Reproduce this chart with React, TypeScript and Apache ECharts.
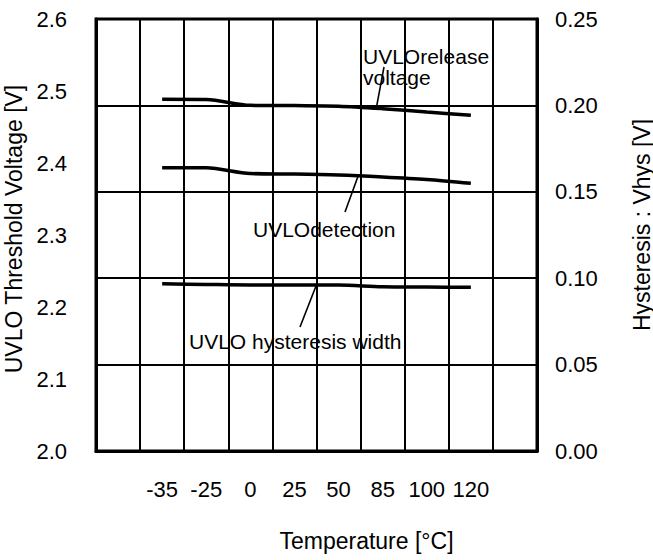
import React, { useEffect, useRef } from "react";
import * as echarts from "echarts";

const categories = ["", "-35", "-25", "0", "25", "50", "85", "100", "120", ""];
const releaseVoltage = [null, 2.4885, 2.4882, 2.4801, 2.4797, 2.4789, 2.4754, 2.4708, 2.4663, null];
const detectionVoltage = [null, 2.3935, 2.3933, 2.3854, 2.3847, 2.3833, 2.3806, 2.3771, 2.3718, null];
const hysteresisWidth = [null, 0.0968, 0.0964, 0.0961, 0.0961, 0.096, 0.0951, 0.0949, 0.0947, null];

const FONT = "Liberation Sans, Arial, sans-serif";

export default function App() {
  const ref = useRef<HTMLDivElement>(null);
  useEffect(() => {
    if (!ref.current) return;
    const chart = echarts.init(ref.current, null, { renderer: "svg" });
    const lineSeries = (name: string, data: any[], yAxisIndex: number) => ({
      name,
      type: "line",
      yAxisIndex,
      data,
      showSymbol: false,
      symbol: "none",
      smooth: 0.3,
      lineStyle: { color: "#000", width: 3.5 },
      z: 5,
    });
    chart.setOption({
      animation: false,
      backgroundColor: "#fff",
      textStyle: { fontFamily: FONT },
      grid: {
        left: 96,
        right: 116,
        top: 19,
        bottom: 109,
        containLabel: false,
        outerBoundsMode: "none",
        show: true,
        borderColor: "#000",
        borderWidth: 3,
      },
      xAxis: {
        type: "category",
        data: categories,
        boundaryGap: true,
        name: "Temperature [°C]",
        nameLocation: "middle",
        nameGap: 78,
        nameTextStyle: { color: "#000", fontSize: 23, fontFamily: FONT, padding: [0, 0, 0, 100] },
        axisLine: { show: true, lineStyle: { color: "#000", width: 3 } },
        axisTick: { show: false },
        axisLabel: { color: "#000", fontSize: 22, fontFamily: FONT, margin: 27, interval: 0 },
        splitLine: { show: true, interval: 0, lineStyle: { color: "#000", width: 2 } },
      },
      yAxis: [
        {
          type: "value",
          min: 2.0,
          max: 2.6,
          interval: 0.1,
          position: "left",
          name: "UVLO Threshold Voltage [V]",
          nameLocation: "middle",
          nameRotate: 90,
          nameGap: 66,
          nameTextStyle: { color: "#000", fontSize: 23, fontFamily: FONT, padding: [0, 0, 0, 12] },
          axisLine: { show: true, lineStyle: { color: "#000", width: 3 } },
          axisTick: { show: false },
          axisLabel: {
            color: "#000",
            fontSize: 22,
            fontFamily: FONT,
            margin: 29,
            formatter: (v: number) => v.toFixed(1),
          },
          splitLine: { show: false },
        },
        {
          type: "value",
          min: 0,
          max: 0.25,
          interval: 0.05,
          position: "right",
          name: "Hysteresis : Vhys [V]",
          nameLocation: "middle",
          nameRotate: 90,
          nameGap: 93,
          nameTextStyle: { color: "#000", fontSize: 23, fontFamily: FONT, padding: [0, 0, 0, 20] },
          axisLine: { show: true, lineStyle: { color: "#000", width: 3 } },
          axisTick: { show: false },
          axisLabel: {
            color: "#000",
            fontSize: 22,
            fontFamily: FONT,
            margin: 18,
            formatter: (v: number) => v.toFixed(2),
          },
          splitLine: { show: true, lineStyle: { color: "#000", width: 2 } },
        },
      ],
      series: [
        lineSeries("UVLO release voltage", releaseVoltage, 0),
        lineSeries("UVLO detection", detectionVoltage, 0),
        lineSeries("UVLO hysteresis width", hysteresisWidth, 1),
      ],
      graphic: [
        {
          type: "text",
          left: 363,
          top: 46,
          z: 10,
          style: { text: "UVLOrelease", fill: "#000", font: `21px ${FONT}` },
        },
        {
          type: "text",
          left: 363,
          top: 67,
          z: 10,
          style: { text: "voltage", fill: "#000", font: `21px ${FONT}` },
        },
        {
          type: "line",
          z: 10,
          shape: { x1: 384, y1: 67, x2: 376.5, y2: 107 },
          style: { stroke: "#000", lineWidth: 1.6 },
        },
        {
          type: "text",
          left: 253,
          top: 219,
          z: 10,
          style: { text: "UVLOdetection", fill: "#000", font: `21px ${FONT}` },
        },
        {
          type: "line",
          z: 10,
          shape: { x1: 345, y1: 212, x2: 358.5, y2: 175 },
          style: { stroke: "#000", lineWidth: 1.6 },
        },
        {
          type: "text",
          left: 189,
          top: 331,
          z: 10,
          style: { text: "UVLO hysteresis width", fill: "#000", font: `21px ${FONT}` },
        },
        {
          type: "line",
          z: 10,
          shape: { x1: 300, y1: 327, x2: 316, y2: 286 },
          style: { stroke: "#000", lineWidth: 1.6 },
        },
      ],
    });
    return () => chart.dispose();
  }, []);
  return (
    <div
      ref={ref}
      style={{ position: "fixed", left: 0, top: 0, width: 653, height: 560, background: "#fff" }}
    />
  );
}
